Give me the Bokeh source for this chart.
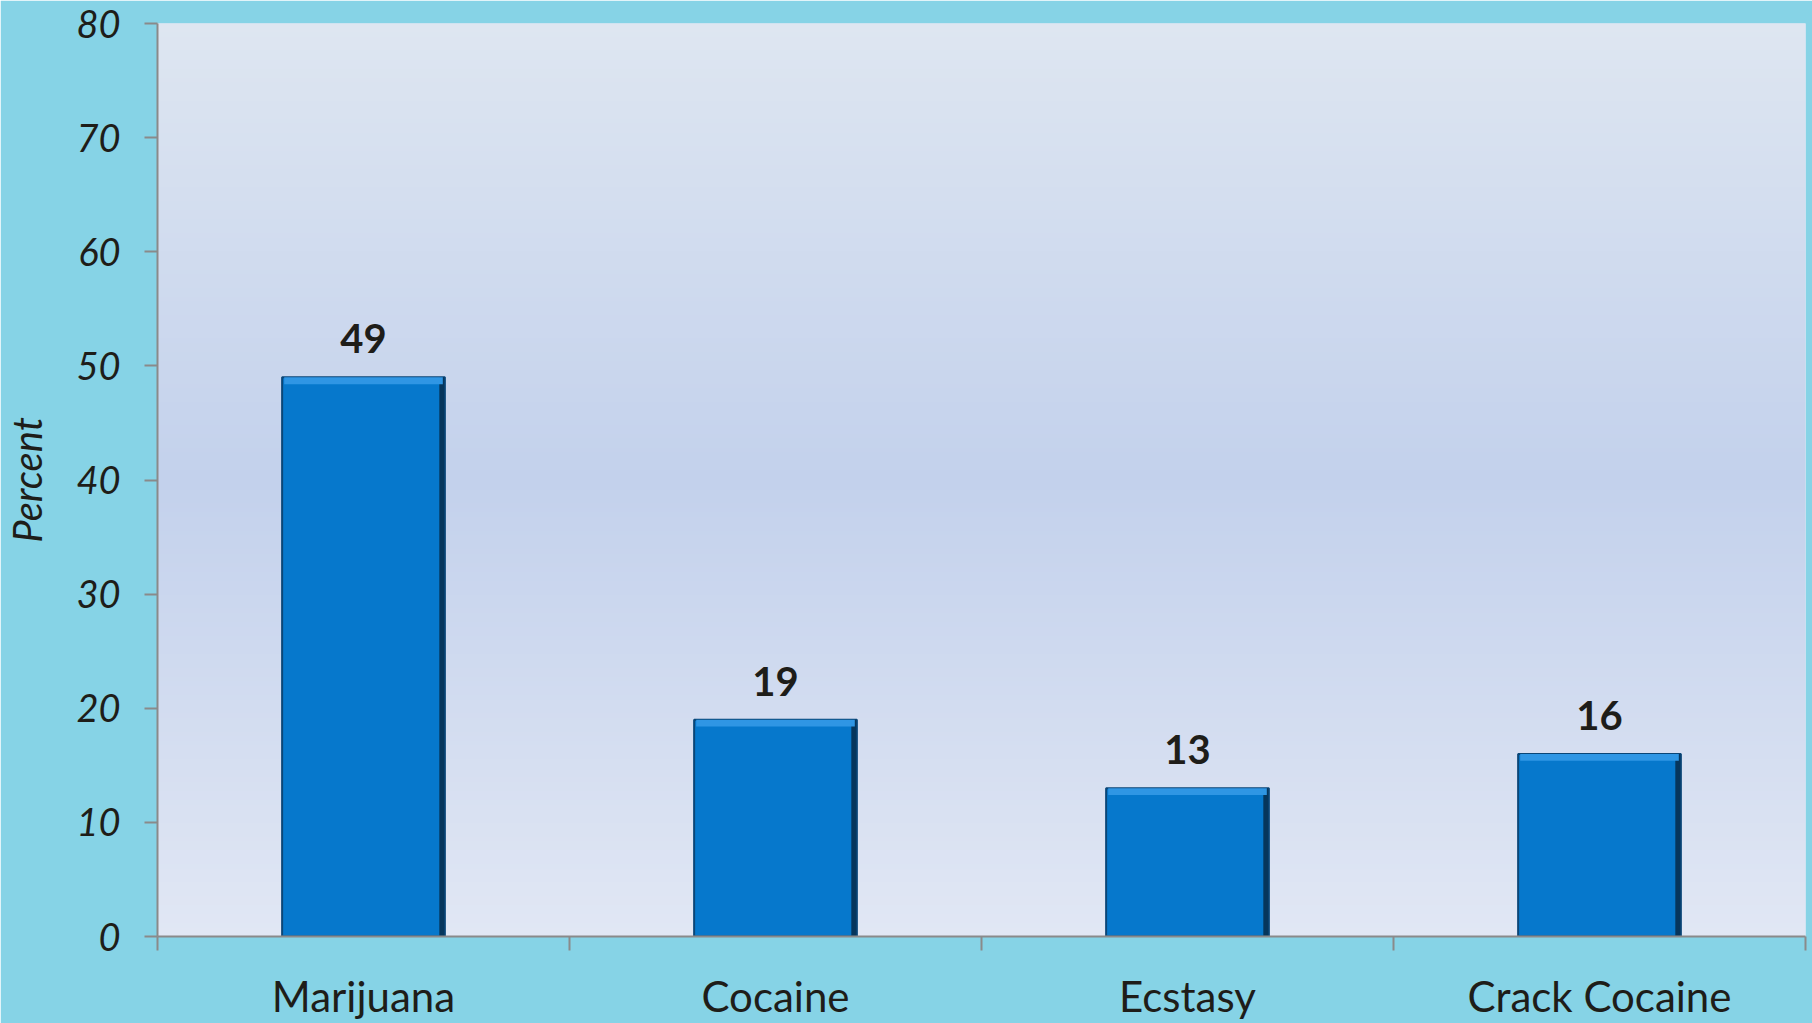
import numpy as np
from bokeh.plotting import figure
from bokeh.models import FixedTicker, LabelSet, ColumnDataSource, Range1d
from bokeh.core.properties import value
from bokeh.embed import file_html
from bokeh.resources import INLINE

# ---- data ----
categories = ["Marijuana", "Cocaine", "Ecstasy", "Crack Cocaine"]
values = [49, 19, 13, 16]
y_ticks = [0, 10, 20, 30, 40, 50, 60, 70, 80]
y_max = 80

# ---- styling ----
FONT = "Lato"
TEXT = "#1e1d19"
AXIS = "#8a8a8a"
BAR = "#0678cc"

n = len(categories)
xs = [i + 0.5 for i in range(n)]

p = figure(width=1812, height=1023,
           x_range=Range1d(0, n), y_range=Range1d(0, y_max),
           output_backend="svg", toolbar_location=None,
           min_border_left=157, min_border_right=7,
           min_border_top=23, min_border_bottom=87)

p.border_fill_color = "#86d3e6"
p.background_fill_color = "#d3ddf0"
p.outline_line_color = None
p.xgrid.visible = False
p.ygrid.visible = False

# gradient plot area background
def hex2rgb(h):
    h = h.lstrip("#")
    return [int(h[i:i + 2], 16) for i in (0, 2, 4)]

stops = [(0.0, "#e1e7f4"), (0.5, "#c3d1ec"), (1.0, "#dee6f1")]
N = 200
img = np.empty((N, 1), dtype=np.uint32)
view = img.view(dtype=np.uint8).reshape((N, 1, 4))
for r in range(N):
    t = r / (N - 1)
    for (t0, c0), (t1, c1) in zip(stops[:-1], stops[1:]):
        if t0 <= t <= t1:
            f = (t - t0) / (t1 - t0)
            a, b = hex2rgb(c0), hex2rgb(c1)
            rgb = [int(round(a[k] + (b[k] - a[k]) * f)) for k in range(3)]
            break
    view[r, 0, 0:3] = rgb
    view[r, 0, 3] = 255
p.image_rgba(image=[img], x=0, y=0, dw=n, dh=y_max)

src = ColumnDataSource(dict(x=xs, top=values, label=[str(v) for v in values]))

# bars with simple bevel
p.vbar(x="x", top="top", bottom=0, width=0.395, source=src,
       fill_color=BAR, line_color="#0a4677", line_width=2)
shade = ColumnDataSource(dict(x=[x + 0.19 for x in xs], top=values))
p.vbar(x="x", top="top", bottom=0, width=0.012, source=shade,
       fill_color="#06365c", line_color=None)
hl = ColumnDataSource(dict(x=xs, top=values, bottom=[v - 0.6 for v in values]))
p.vbar(x="x", top="top", bottom="bottom", width=0.385, source=hl,
       fill_color="#2f96e4", line_color=None)

labels = LabelSet(x="x", y="top", text="label", source=src,
                  text_align="center", text_baseline="alphabetic",
                  y_offset=24, text_font=value(FONT), text_font_style="bold",
                  text_font_size="40px", text_color=TEXT)
p.add_layout(labels)

# y axis
ya = p.yaxis[0]
ya.ticker = FixedTicker(ticks=y_ticks)
ya.axis_label = "Percent"
ya.axis_label_text_font = FONT
ya.axis_label_text_font_style = "italic"
ya.axis_label_text_font_size = "40px"
ya.axis_label_text_color = TEXT
ya.axis_label_standoff = 22
ya.major_label_text_font = FONT
ya.major_label_text_font_style = "italic"
ya.major_label_text_font_size = "38px"
ya.major_label_text_color = TEXT
ya.major_label_standoff = 24
ya.axis_line_color = AXIS
ya.axis_line_width = 2
ya.major_tick_line_color = AXIS
ya.major_tick_line_width = 2
ya.major_tick_out = 13
ya.major_tick_in = 0
ya.minor_tick_line_color = None

# x axis: labels at centers, ticks at category boundaries
xa = p.xaxis[0]
xa.ticker = FixedTicker(ticks=xs, minor_ticks=list(range(n + 1)))
xa.major_label_overrides = {x: c for x, c in zip(xs, categories)}
xa.major_label_text_font = FONT
xa.major_label_text_font_size = "42px"
xa.major_label_text_color = TEXT
xa.major_label_standoff = 20
xa.axis_line_color = AXIS
xa.axis_line_width = 2
xa.major_tick_out = 0
xa.major_tick_in = 0
xa.major_tick_line_color = None
xa.minor_tick_line_color = AXIS
xa.minor_tick_line_width = 2
xa.minor_tick_out = 14
xa.minor_tick_in = 0

open("out.html", "w").write(file_html(p, INLINE))
